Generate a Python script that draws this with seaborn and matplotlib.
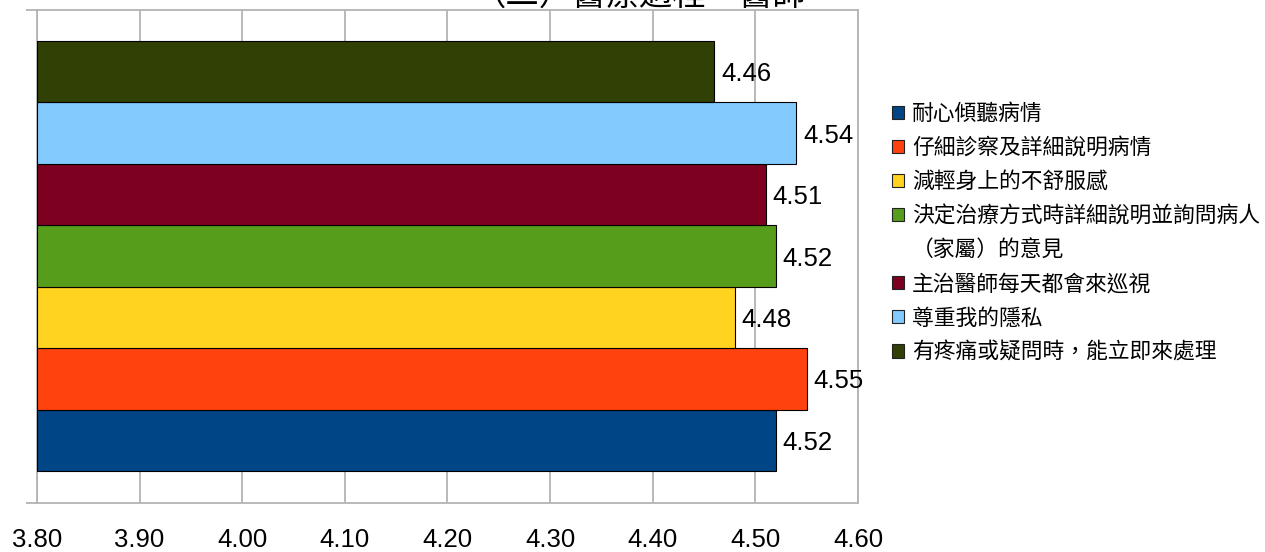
import matplotlib
matplotlib.use("Agg")
import matplotlib.pyplot as plt
import pandas as pd
import seaborn as sns
from matplotlib.patches import Patch

items = ["耐心傾聽病情",
         "仔細診察及詳細說明病情",
         "減輕身上的不舒服感",
         "決定治療方式時詳細說明並詢問病人\n（家屬）的意見",
         "主治醫師每天都會來巡視",
         "尊重我的隱私",
         "有疼痛或疑問時，能立即來處理"]
scores = [4.52, 4.55, 4.48, 4.52, 4.51, 4.54, 4.46]
colors = ["#004586", "#ff420e", "#ffd320", "#579d1c", "#7e0021", "#83caff", "#314004"]
xticks = [3.80, 3.90, 4.00, 4.10, 4.20, 4.30, 4.40, 4.50, 4.60]
title = "（二）醫療過程－醫師"

sns.set_style("white")
plt.rcParams["font.family"] = ["Liberation Sans", "Noto Sans CJK TC", "DejaVu Sans"]
plt.rcParams["text.color"] = "black"

W, H = 1265, 552
fig = plt.figure(figsize=(W / 100, H / 100), dpi=100)
ax = fig.add_axes([37 / W, 1 - 503 / H, (858 - 37) / W, (503 - 10) / H])

df = pd.DataFrame({"item": items, "score": scores})
order = items[::-1]
pal = dict(zip(items, colors))
sns.barplot(data=df, x="score", y="item", hue="item", order=order, palette=pal,
            orient="h", width=1, legend=False, edgecolor="black", linewidth=0.8,
            saturation=1, ax=ax)

# bars start at the axis origin 3.80
for p in ax.patches:
    p.set_width(p.get_x() + p.get_width() - xticks[0])
    p.set_x(xticks[0])
    p.set_zorder(3)
for c in ax.containers:
    for t in ax.bar_label(c, fmt="%.2f", padding=5, fontsize=18.5, color="black"):
        t.set_verticalalignment("center_baseline")

grid_c = "#b3b3b3"
ax.set_xlim(xticks[0], xticks[-1])
ax.set_xticks(xticks)
ax.set_xticklabels([f"{t:.2f}" for t in xticks])
ylo, yhi = 7.02, -1.005
ax.set_yticks([ylo, yhi])
ax.set_yticklabels([])
ax.set_ylim(ylo, yhi)
ax.set_xlabel("")
ax.set_ylabel("")
ax.xaxis.grid(True, color=grid_c, linewidth=1.3)
ax.set_axisbelow(True)
for s in ax.spines.values():
    s.set_color(grid_c)
    s.set_linewidth(1.3)
ax.tick_params(axis="x", length=8, width=1.3, color=grid_c, labelcolor="black",
               pad=10, labelsize=18.5)
ax.tick_params(axis="y", length=8, width=1.3, color=grid_c, left=True)

# legend: wrapped label continues on its own row without a swatch
handles, labels = [], []
for name, c in zip(items, colors):
    lines = name.split("\n")
    handles.append(Patch(facecolor=c, edgecolor="#222222", linewidth=0.8))
    labels.append(lines[0])
    for extra in lines[1:]:
        handles.append(Patch(facecolor="none", edgecolor="none"))
        labels.append(extra)
leg = fig.legend(handles, labels, loc="upper left",
                 bbox_to_anchor=(892 / W, 1 - 104 / H), frameon=False,
                 fontsize=15.7, borderpad=0, borderaxespad=0,
                 handlelength=0.55, handleheight=0.55, handletextpad=0.37,
                 labelspacing=0.6, labelcolor="black")

fig.text(640 / W, 1 - 5 / H, title, ha="center", va="baseline",
         fontsize=24, family=["Noto Sans CJK TC", "DejaVu Sans"])

fig.savefig("out.png", dpi=100)
